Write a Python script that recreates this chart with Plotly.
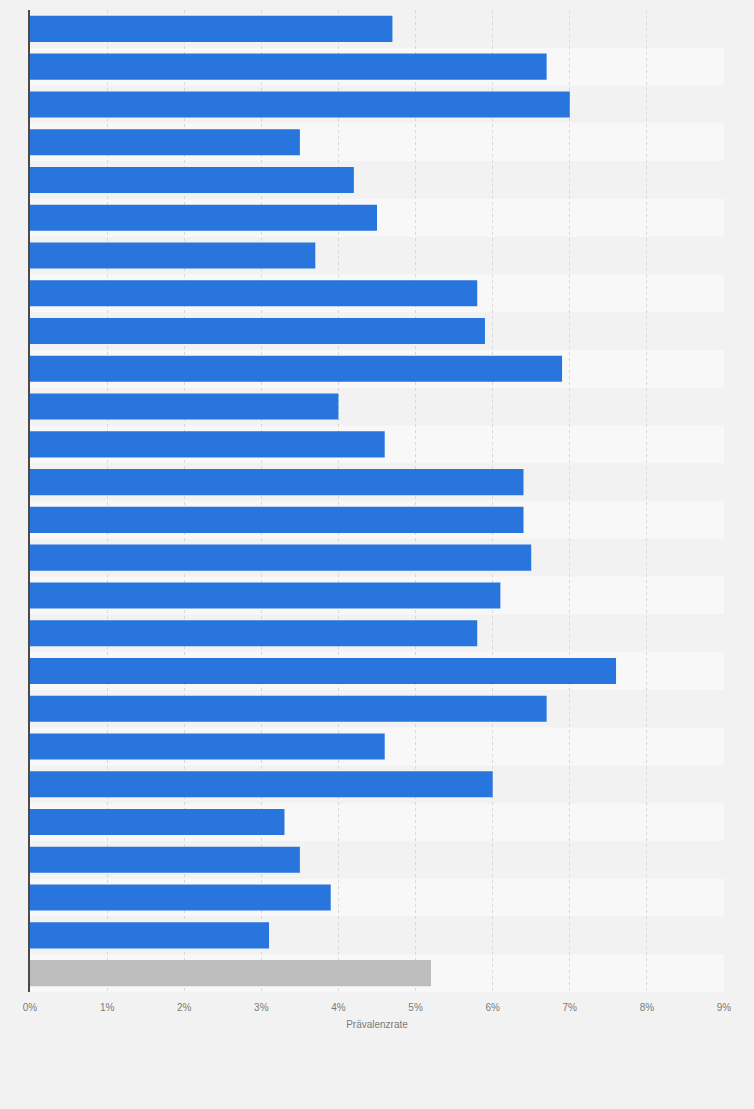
import plotly.graph_objects as go

# Prävalenzrate je Zeile (in %), von oben nach unten; letzte Zeile = Gesamt (grau)
rates = [4.7, 6.7, 7.0, 3.5, 4.2, 4.5, 3.7, 5.8, 5.9, 6.9, 4.0, 4.6, 6.4,
         6.4, 6.5, 6.1, 5.8, 7.6, 6.7, 4.6, 6.0, 3.3, 3.5, 3.9, 3.1, 5.2]
rows = list(range(1, len(rates) + 1))
tick_vals = list(range(0, 10))
tick_text = [f"{v}%" for v in tick_vals]

colors = ['#2876dd'] * (len(rates) - 1) + ['#bdbdbd']

fig = go.Figure(go.Bar(
    x=rates, y=rows, orientation='h',
    marker=dict(color=colors, line=dict(width=0)),
    width=0.69,
    hoverinfo='x'))

# Streifen im Hintergrund (jede zweite Zeile heller)
for r in rows:
    if r % 2 == 0:
        fig.add_shape(type='rect', xref='x', yref='y', layer='below',
                      x0=0, x1=tick_vals[-1], y0=r - 0.5, y1=r + 0.5,
                      fillcolor='#f8f8f8', line=dict(width=0))

fig.update_layout(
    width=754, height=1109,
    paper_bgcolor='#f2f2f2', plot_bgcolor='#f2f2f2',
    margin=dict(l=30, r=30, t=10, b=117),
    showlegend=False,
    bargap=0.31,
    font=dict(family='Liberation Sans, Arial, sans-serif', color='#777777'),
    xaxis=dict(range=[0, 9], tickvals=tick_vals, ticktext=tick_text,
               showgrid=True, gridcolor='#d8d8d8', griddash='dot', gridwidth=1,
               zeroline=False, showline=False, ticks='',
               ticklabelstandoff=8,
               tickfont=dict(size=10, color='#7a7a7a'),
               title=dict(text='Prävalenzrate', font=dict(size=10, color='#7a7a7a'),
                          standoff=8)),
    yaxis=dict(range=[len(rates) + 0.5, 0.5], showticklabels=False,
               showgrid=False, zeroline=False, ticks='',
               showline=True, linecolor='#4a4a4a', linewidth=1.5),
)

fig.write_html("out.html", config={'displayModeBar': False},
               post_script="document.body.style.margin='0';")
